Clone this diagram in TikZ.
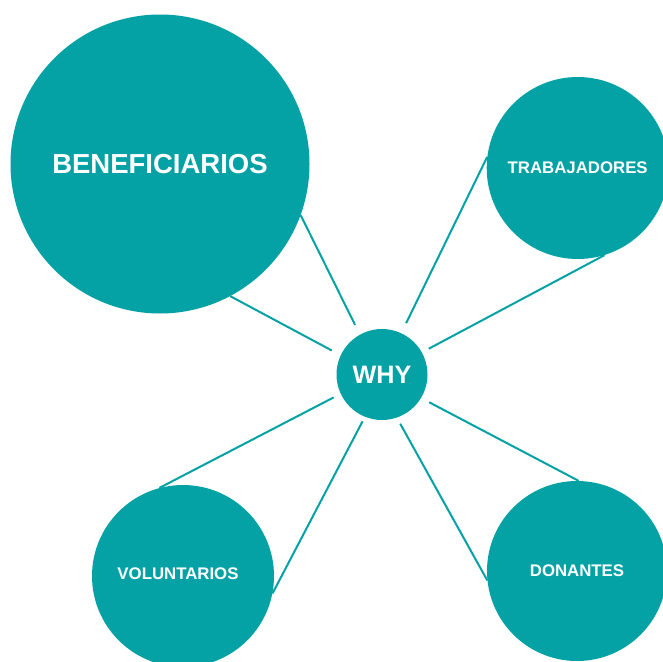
\documentclass[tikz,border=0pt]{standalone}
\usepackage{fontspec}
\setmainfont{Liberation Sans}
\definecolor{tealc}{HTML}{04A2A4}
\begin{document}
\begin{tikzpicture}[x=1pt,y=-1pt,
  bub/.style={circle,fill=tealc,inner sep=0pt,text=white},
  link/.style={draw=tealc,line width=2pt}]
\useasboundingbox (0,0) rectangle (663,661);
\node[bub,minimum size=299pt,font=\bfseries\fontsize{27.5}{30}\selectfont] (benef) at (160,164) {BENEFICIARIOS};
\node[bub,minimum size=182pt,font=\bfseries\fontsize{16.8}{19}\selectfont] (trab) at (577.7,168) {TRABAJADORES};
\node[bub,minimum size=182pt,label={[text=white,xshift=-5pt,yshift=2pt,font=\bfseries\fontsize{16.8}{19}\selectfont]center:VOLUNTARIOS}] (volun) at (183,576) {};
\node[bub,minimum size=180pt,font=\bfseries\fontsize{16.8}{19}\selectfont] (don) at (577,571) {DONANTES};
\node[bub,minimum size=91pt,font=\bfseries\fontsize{25.2}{28}\selectfont] (why) at (382,374.5) {WHY};
\draw[link,shorten <=10.8pt] (why.119.8) -- (benef.-20.1);
\draw[link,shorten <=10pt] (why.155) -- (benef.-62.9);
\draw[link,shorten <=11pt] (why.65.6) -- (trab.173.7);
\draw[link,shorten <=7.7pt] (why.29.5) -- (trab.-73.8);
\draw[link,shorten <=7.8pt] (why.205.8) -- (volun.105.7);
\draw[link,shorten <=5pt] (why.248.1) -- (volun.-11.4);
\draw[link,shorten <=6.9pt] (why.289.3) -- (don.186.3);
\draw[link,shorten <=9.1pt] (why.329.4) -- (don.89.4);
\end{tikzpicture}
\end{document}
